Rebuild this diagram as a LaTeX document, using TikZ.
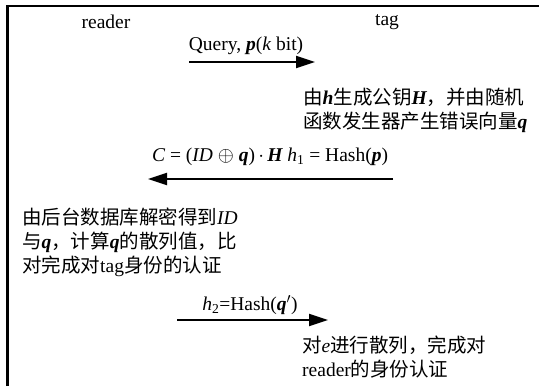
\documentclass[tikz,border=0pt]{standalone}
\usepackage{fontspec}
\setmainfont{Liberation Serif}
\newfontfamily\cjk{Noto Sans CJK SC}
\usetikzlibrary{arrows.meta}
\newcommand\bv[1]{{\rmfamily\bfseries\itshape #1}}
\newcommand\lat[1]{{\rmfamily #1}}

\begin{document}
\begin{tikzpicture}[
  x=1bp, y=-1bp,
  >={Triangle[length=19bp,width=12bp]},
  font=\fontsize{19.5bp}{24bp}\selectfont,
  frame/.style={line width=2.6bp, black},
  msg/.style={->, line width=2bp, black},
  party/.style={inner sep=0pt},
  msglabel/.style={inner sep=0pt},
  note/.style={anchor=west, align=left, inner sep=0pt, font=\fontsize{19.5bp}{24bp}\selectfont\cjk}
]
\useasboundingbox (0,0) rectangle (539,386);

% Rahmen, rechts und unten offen
\draw[frame] (7.5,386) -- (7.5,6) -- (539,6);

% Teilnehmer
\node[party] (reader) at (106,22) {reader};
\node[party] (tag) at (387,22) {tag};

% Nachricht 1: reader -> tag
\coordinate (m1s) at (189,62);
\coordinate (m1e) at (315,62);
\draw[msg] (m1s) -- (m1e);
\node[msglabel] (m1) at (246,46) {Query, \bv{p}(\textit{k} bit)};

\node[note] (tagwork) at (303,110) {由\bv{h}生成公钥\bv{H}，并由随机\\函数发生器产生错误向量\bv{q}};

% Nachricht 2: tag -> reader
\coordinate (m2s) at (393,179);
\coordinate (m2e) at (148,179);
\draw[msg] (m2s) -- (m2e);
\node[msglabel] (m2) at (270,157) {\textit{C} = (\textit{ID} $\oplus$ \bv{q})\,$\cdot$\,\bv{H} \textit{h}\textsubscript{1} = Hash(\bv{p})};

\node[note] (readerwork) at (22,242) {由后台数据库解密得到\lat{\textit{ID}}\\与\bv{q}，计算\bv{q}的散列值，比\\对完成对\lat{tag}身份的认证};

% Nachricht 3: reader -> tag
\coordinate (m3s) at (177,320);
\coordinate (m3e) at (328,320);
\draw[msg] (m3s) -- (m3e);
\node[msglabel] (m3) at (250,305) {\textit{h}\textsubscript{2}=Hash(\bv{q}$'$)};

\node[note] (tagcheck) at (302,357) {对\lat{\textit{e}}进行散列，完成对\\\lat{reader}的身份认证};

\end{tikzpicture}
\end{document}
